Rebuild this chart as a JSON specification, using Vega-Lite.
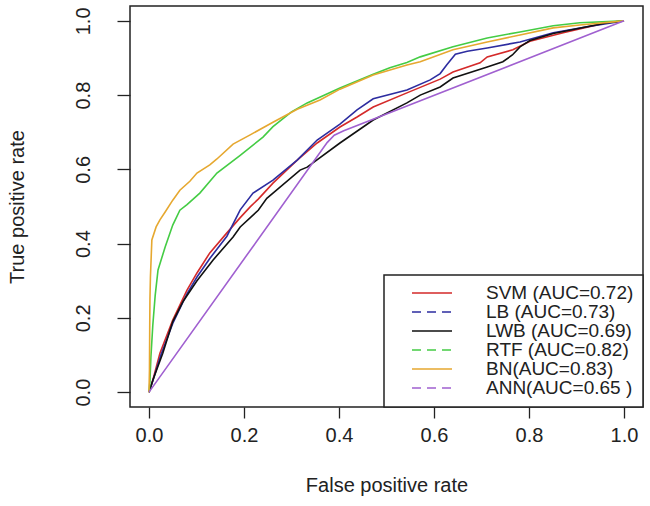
{
  "$schema": "https://vega.github.io/schema/vega-lite/v6.json",
  "width": 513,
  "height": 401,
  "autosize": "none",
  "padding": {"left": 130, "top": 6, "right": 7, "bottom": 99},
  "background": "white",
  "config": {
    "font": "Liberation Sans",
    "view": {"stroke": "#222", "strokeWidth": 1.5},
    "axis": {
      "grid": false,
      "domain": false,
      "tickColor": "#222",
      "tickWidth": 1.3,
      "labelColor": "#222",
      "titleColor": "#222",
      "labelFont": "Liberation Sans",
      "titleFont": "Liberation Sans",
      "labelFontSize": 20,
      "titleFontSize": 20,
      "titleFontWeight": "normal"
    },
    "legend": {
      "labelFont": "Liberation Sans",
      "labelFontSize": 19,
      "labelColor": "#222"
    }
  },
  "data": {
    "values": [
      {"m": "SVM (AUC=0.72)", "x": 0, "y": 0},
      {"m": "SVM (AUC=0.72)", "x": 0.008, "y": 0.032},
      {"m": "SVM (AUC=0.72)", "x": 0.023, "y": 0.105},
      {"m": "SVM (AUC=0.72)", "x": 0.05, "y": 0.194},
      {"m": "SVM (AUC=0.72)", "x": 0.08, "y": 0.275},
      {"m": "SVM (AUC=0.72)", "x": 0.101, "y": 0.321},
      {"m": "SVM (AUC=0.72)", "x": 0.128, "y": 0.375},
      {"m": "SVM (AUC=0.72)", "x": 0.164, "y": 0.429},
      {"m": "SVM (AUC=0.72)", "x": 0.192, "y": 0.47},
      {"m": "SVM (AUC=0.72)", "x": 0.213, "y": 0.499},
      {"m": "SVM (AUC=0.72)", "x": 0.23, "y": 0.52},
      {"m": "SVM (AUC=0.72)", "x": 0.261, "y": 0.563},
      {"m": "SVM (AUC=0.72)", "x": 0.312, "y": 0.625},
      {"m": "SVM (AUC=0.72)", "x": 0.354, "y": 0.671},
      {"m": "SVM (AUC=0.72)", "x": 0.402, "y": 0.714},
      {"m": "SVM (AUC=0.72)", "x": 0.438, "y": 0.741},
      {"m": "SVM (AUC=0.72)", "x": 0.472, "y": 0.768},
      {"m": "SVM (AUC=0.72)", "x": 0.543, "y": 0.806},
      {"m": "SVM (AUC=0.72)", "x": 0.613, "y": 0.843},
      {"m": "SVM (AUC=0.72)", "x": 0.64, "y": 0.862},
      {"m": "SVM (AUC=0.72)", "x": 0.697, "y": 0.887},
      {"m": "SVM (AUC=0.72)", "x": 0.712, "y": 0.903},
      {"m": "SVM (AUC=0.72)", "x": 0.766, "y": 0.922},
      {"m": "SVM (AUC=0.72)", "x": 0.802, "y": 0.945},
      {"m": "SVM (AUC=0.72)", "x": 0.872, "y": 0.968},
      {"m": "SVM (AUC=0.72)", "x": 0.943, "y": 0.989},
      {"m": "SVM (AUC=0.72)", "x": 0.964, "y": 0.995},
      {"m": "SVM (AUC=0.72)", "x": 1, "y": 1},

      {"m": "LB (AUC=0.73)", "x": 0, "y": 0},
      {"m": "LB (AUC=0.73)", "x": 0.008, "y": 0.03},
      {"m": "LB (AUC=0.73)", "x": 0.025, "y": 0.1},
      {"m": "LB (AUC=0.73)", "x": 0.05, "y": 0.185},
      {"m": "LB (AUC=0.73)", "x": 0.08, "y": 0.265},
      {"m": "LB (AUC=0.73)", "x": 0.101, "y": 0.31},
      {"m": "LB (AUC=0.73)", "x": 0.128, "y": 0.36},
      {"m": "LB (AUC=0.73)", "x": 0.164, "y": 0.42},
      {"m": "LB (AUC=0.73)", "x": 0.192, "y": 0.491},
      {"m": "LB (AUC=0.73)", "x": 0.219, "y": 0.536},
      {"m": "LB (AUC=0.73)", "x": 0.261, "y": 0.571},
      {"m": "LB (AUC=0.73)", "x": 0.312, "y": 0.625},
      {"m": "LB (AUC=0.73)", "x": 0.354, "y": 0.679},
      {"m": "LB (AUC=0.73)", "x": 0.402, "y": 0.722},
      {"m": "LB (AUC=0.73)", "x": 0.438, "y": 0.76},
      {"m": "LB (AUC=0.73)", "x": 0.472, "y": 0.79},
      {"m": "LB (AUC=0.73)", "x": 0.543, "y": 0.814},
      {"m": "LB (AUC=0.73)", "x": 0.592, "y": 0.841},
      {"m": "LB (AUC=0.73)", "x": 0.613, "y": 0.858},
      {"m": "LB (AUC=0.73)", "x": 0.627, "y": 0.882},
      {"m": "LB (AUC=0.73)", "x": 0.645, "y": 0.91},
      {"m": "LB (AUC=0.73)", "x": 0.67, "y": 0.918},
      {"m": "LB (AUC=0.73)", "x": 0.712, "y": 0.927},
      {"m": "LB (AUC=0.73)", "x": 0.781, "y": 0.943},
      {"m": "LB (AUC=0.73)", "x": 0.851, "y": 0.968},
      {"m": "LB (AUC=0.73)", "x": 0.922, "y": 0.984},
      {"m": "LB (AUC=0.73)", "x": 1, "y": 1},

      {"m": "LWB (AUC=0.69)", "x": 0, "y": 0},
      {"m": "LWB (AUC=0.69)", "x": 0.008, "y": 0.032},
      {"m": "LWB (AUC=0.69)", "x": 0.029, "y": 0.105},
      {"m": "LWB (AUC=0.69)", "x": 0.05, "y": 0.19},
      {"m": "LWB (AUC=0.69)", "x": 0.072, "y": 0.245},
      {"m": "LWB (AUC=0.69)", "x": 0.101, "y": 0.3},
      {"m": "LWB (AUC=0.69)", "x": 0.135, "y": 0.356},
      {"m": "LWB (AUC=0.69)", "x": 0.177, "y": 0.418},
      {"m": "LWB (AUC=0.69)", "x": 0.192, "y": 0.445},
      {"m": "LWB (AUC=0.69)", "x": 0.23, "y": 0.49},
      {"m": "LWB (AUC=0.69)", "x": 0.248, "y": 0.522},
      {"m": "LWB (AUC=0.69)", "x": 0.261, "y": 0.536},
      {"m": "LWB (AUC=0.69)", "x": 0.318, "y": 0.598},
      {"m": "LWB (AUC=0.69)", "x": 0.333, "y": 0.606},
      {"m": "LWB (AUC=0.69)", "x": 0.402, "y": 0.671},
      {"m": "LWB (AUC=0.69)", "x": 0.472, "y": 0.733},
      {"m": "LWB (AUC=0.69)", "x": 0.543, "y": 0.779},
      {"m": "LWB (AUC=0.69)", "x": 0.571, "y": 0.8},
      {"m": "LWB (AUC=0.69)", "x": 0.613, "y": 0.822},
      {"m": "LWB (AUC=0.69)", "x": 0.64, "y": 0.846},
      {"m": "LWB (AUC=0.69)", "x": 0.712, "y": 0.876},
      {"m": "LWB (AUC=0.69)", "x": 0.745, "y": 0.89},
      {"m": "LWB (AUC=0.69)", "x": 0.765, "y": 0.908},
      {"m": "LWB (AUC=0.69)", "x": 0.781, "y": 0.93},
      {"m": "LWB (AUC=0.69)", "x": 0.802, "y": 0.947},
      {"m": "LWB (AUC=0.69)", "x": 0.851, "y": 0.966},
      {"m": "LWB (AUC=0.69)", "x": 0.922, "y": 0.984},
      {"m": "LWB (AUC=0.69)", "x": 0.964, "y": 0.995},
      {"m": "LWB (AUC=0.69)", "x": 1, "y": 1},

      {"m": "RTF (AUC=0.82)", "x": 0, "y": 0},
      {"m": "RTF (AUC=0.82)", "x": 0.002, "y": 0.03},
      {"m": "RTF (AUC=0.82)", "x": 0.004, "y": 0.094},
      {"m": "RTF (AUC=0.82)", "x": 0.008, "y": 0.18},
      {"m": "RTF (AUC=0.82)", "x": 0.013, "y": 0.26},
      {"m": "RTF (AUC=0.82)", "x": 0.019, "y": 0.329},
      {"m": "RTF (AUC=0.82)", "x": 0.034, "y": 0.391},
      {"m": "RTF (AUC=0.82)", "x": 0.05, "y": 0.45},
      {"m": "RTF (AUC=0.82)", "x": 0.065, "y": 0.49},
      {"m": "RTF (AUC=0.82)", "x": 0.08, "y": 0.505},
      {"m": "RTF (AUC=0.82)", "x": 0.107, "y": 0.536},
      {"m": "RTF (AUC=0.82)", "x": 0.143, "y": 0.59},
      {"m": "RTF (AUC=0.82)", "x": 0.192, "y": 0.638},
      {"m": "RTF (AUC=0.82)", "x": 0.24, "y": 0.687},
      {"m": "RTF (AUC=0.82)", "x": 0.261, "y": 0.715},
      {"m": "RTF (AUC=0.82)", "x": 0.3, "y": 0.755},
      {"m": "RTF (AUC=0.82)", "x": 0.333, "y": 0.779},
      {"m": "RTF (AUC=0.82)", "x": 0.402, "y": 0.819},
      {"m": "RTF (AUC=0.82)", "x": 0.472, "y": 0.856},
      {"m": "RTF (AUC=0.82)", "x": 0.507, "y": 0.874},
      {"m": "RTF (AUC=0.82)", "x": 0.543, "y": 0.888},
      {"m": "RTF (AUC=0.82)", "x": 0.571, "y": 0.903},
      {"m": "RTF (AUC=0.82)", "x": 0.64, "y": 0.93},
      {"m": "RTF (AUC=0.82)", "x": 0.712, "y": 0.954},
      {"m": "RTF (AUC=0.82)", "x": 0.781, "y": 0.97},
      {"m": "RTF (AUC=0.82)", "x": 0.851, "y": 0.987},
      {"m": "RTF (AUC=0.82)", "x": 0.907, "y": 0.995},
      {"m": "RTF (AUC=0.82)", "x": 1, "y": 1},

      {"m": "BN(AUC=0.83)", "x": 0, "y": 0},
      {"m": "BN(AUC=0.83)", "x": 0.001, "y": 0.06},
      {"m": "BN(AUC=0.83)", "x": 0.0015, "y": 0.17},
      {"m": "BN(AUC=0.83)", "x": 0.002, "y": 0.25},
      {"m": "BN(AUC=0.83)", "x": 0.003, "y": 0.31},
      {"m": "BN(AUC=0.83)", "x": 0.006, "y": 0.41},
      {"m": "BN(AUC=0.83)", "x": 0.015, "y": 0.445},
      {"m": "BN(AUC=0.83)", "x": 0.023, "y": 0.464},
      {"m": "BN(AUC=0.83)", "x": 0.034, "y": 0.485},
      {"m": "BN(AUC=0.83)", "x": 0.05, "y": 0.517},
      {"m": "BN(AUC=0.83)", "x": 0.065, "y": 0.544},
      {"m": "BN(AUC=0.83)", "x": 0.086, "y": 0.568},
      {"m": "BN(AUC=0.83)", "x": 0.101, "y": 0.59},
      {"m": "BN(AUC=0.83)", "x": 0.128, "y": 0.612},
      {"m": "BN(AUC=0.83)", "x": 0.143, "y": 0.628},
      {"m": "BN(AUC=0.83)", "x": 0.177, "y": 0.668},
      {"m": "BN(AUC=0.83)", "x": 0.213, "y": 0.693},
      {"m": "BN(AUC=0.83)", "x": 0.261, "y": 0.727},
      {"m": "BN(AUC=0.83)", "x": 0.312, "y": 0.762},
      {"m": "BN(AUC=0.83)", "x": 0.36, "y": 0.787},
      {"m": "BN(AUC=0.83)", "x": 0.402, "y": 0.816},
      {"m": "BN(AUC=0.83)", "x": 0.472, "y": 0.854},
      {"m": "BN(AUC=0.83)", "x": 0.543, "y": 0.881},
      {"m": "BN(AUC=0.83)", "x": 0.571, "y": 0.89},
      {"m": "BN(AUC=0.83)", "x": 0.64, "y": 0.922},
      {"m": "BN(AUC=0.83)", "x": 0.712, "y": 0.943},
      {"m": "BN(AUC=0.83)", "x": 0.781, "y": 0.962},
      {"m": "BN(AUC=0.83)", "x": 0.851, "y": 0.981},
      {"m": "BN(AUC=0.83)", "x": 0.907, "y": 0.989},
      {"m": "BN(AUC=0.83)", "x": 1, "y": 1},

      {"m": "ANN(AUC=0.65 )", "x": 0, "y": 0},
      {"m": "ANN(AUC=0.65 )", "x": 0.375, "y": 0.672},
      {"m": "ANN(AUC=0.65 )", "x": 0.39, "y": 0.692},
      {"m": "ANN(AUC=0.65 )", "x": 0.41, "y": 0.704},
      {"m": "ANN(AUC=0.65 )", "x": 1, "y": 1}
    ]
  },
  "encoding": {
    "x": {
      "field": "x",
      "type": "quantitative",
      "title": "False positive rate",
      "scale": {"domain": [-0.04, 1.04], "nice": false, "zero": false},
      "axis": {
        "values": [0, 0.2, 0.4, 0.6, 0.8, 1],
        "format": ".1f",
        "tickSize": 11,
        "labelPadding": 7,
        "titlePadding": 30,
        "labelFlush": false
      }
    },
    "y": {
      "field": "y",
      "type": "quantitative",
      "title": "True positive rate",
      "scale": {"domain": [-0.04, 1.04], "nice": false, "zero": false},
      "axis": {
        "values": [0, 0.2, 0.4, 0.6, 0.8, 1],
        "format": ".1f",
        "tickSize": 13,
        "labelAngle": 270,
        "labelAlign": "center",
        "labelBaseline": "bottom",
        "labelPadding": 24,
        "titlePadding": 46,
        "labelFlush": false
      }
    },
    "color": {
      "field": "m",
      "type": "nominal",
      "scale": {
        "domain": ["SVM (AUC=0.72)", "LB (AUC=0.73)", "LWB (AUC=0.69)", "RTF (AUC=0.82)", "BN(AUC=0.83)", "ANN(AUC=0.65 )"],
        "range": ["#D42A2A", "#2D2DA0", "#111111", "#44CC44", "#E6A830", "#A060D0"]
      },
      "legend": {
        "title": null,
        "orient": "bottom-right",
        "offset": 0,
        "padding": 9,
        "strokeColor": "#222",
        "fillColor": "white",
        "symbolType": "stroke",
        "symbolSize": 1600,
        "symbolStrokeWidth": 1.5,
        "symbolOffset": 18,
        "labelOffset": 33,
        "clipHeight": 18,
        "rowPadding": 0,
        "encode": {"legend": {"update": {"strokeWidth": {"value": 1.5}}}}
      }
    }
  },
  "layer": [
    {
      "mark": {"type": "line", "strokeWidth": 1.6, "interpolate": "linear"}
    },
    {
      "transform": [{"filter": "datum.x > 5"}],
      "mark": {"type": "line", "strokeWidth": 1.6},
      "encoding": {
        "strokeDash": {
          "field": "m",
          "type": "nominal",
          "scale": {
            "domain": ["SVM (AUC=0.72)", "LB (AUC=0.73)", "LWB (AUC=0.69)", "RTF (AUC=0.82)", "BN(AUC=0.83)", "ANN(AUC=0.65 )"],
            "range": [[1, 0], [9, 6], [1, 0], [9, 6], [1, 0], [9, 6]]
          },
          "legend": {
            "title": null,
            "orient": "bottom-right",
            "offset": 0,
            "padding": 9,
            "strokeColor": "#222",
            "fillColor": "white",
            "symbolType": "stroke",
            "symbolSize": 1600,
            "symbolStrokeWidth": 1.5,
            "symbolOffset": 18,
            "labelOffset": 33,
            "clipHeight": 18,
            "rowPadding": 0
          }
        }
      }
    }
  ]
}
